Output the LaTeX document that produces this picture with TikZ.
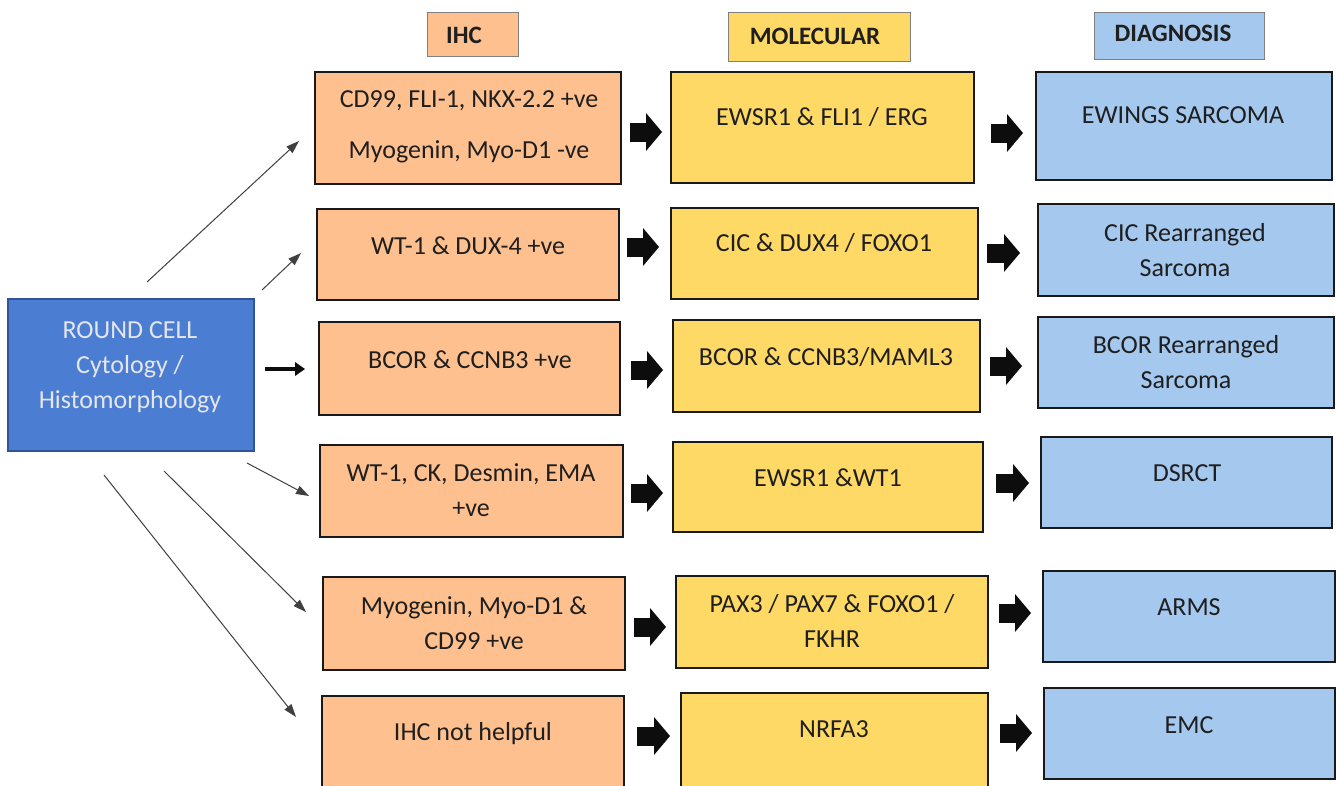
\documentclass[tikz,border=0pt]{standalone}
\usepackage{fontspec}
\setmainfont{Carlito}
\usetikzlibrary{arrows.meta}
\definecolor{ihcfill}{HTML}{FFC08F}
\definecolor{molfill}{HTML}{FFD966}
\definecolor{diafill}{HTML}{A4C8EE}
\definecolor{rcfill}{HTML}{4B7DD3}
\definecolor{rcline}{HTML}{2F5597}
\definecolor{rctext}{HTML}{E4E6EA}
\begin{document}
\begin{tikzpicture}[x=1pt,y=-1pt,
  txt/.style={font=\fontsize{26pt}{35pt}\selectfont, text=black!88, align=center, inner sep=0pt},
  hdrtxt/.style={txt, font=\fontsize{25pt}{30pt}\selectfont\bfseries},
  bx/.style={draw=black!90, line width=2pt, anchor=north west, inner sep=0pt, outer sep=0pt},
  ihcbox/.style={bx, fill=ihcfill},
  molbox/.style={bx, fill=molfill},
  diabox/.style={bx, fill=diafill},
  hdr/.style={draw=black!50, line width=1pt, anchor=north west, inner sep=0pt, outer sep=0pt},
  blk/.style={line width=19pt, draw=black!95, -{Triangle[length=16pt,width=38pt,line width=0pt]}},
  thickarr/.style={line width=4.5pt, draw=black!95, -{Triangle[length=10pt,width=14pt,line width=0pt]}},
  thinarr/.style={line width=1pt, draw=black!75, -{Triangle[length=13pt,width=9pt,line width=0pt]}}
  ]
\useasboundingbox (0,0) rectangle (1336,785);
\clip (0,0) rectangle (1336,785);
\fill[white] (0,0) rectangle (1336,785);

% headers
\node[hdr, fill=ihcfill, minimum width=91pt, minimum height=44pt] (hI) at (427,12) {};
\node[hdr, fill=molfill, minimum width=182pt, minimum height=49pt] (hM) at (728,12) {};
\node[hdr, fill=diafill, minimum width=170pt, minimum height=47pt] (hD) at (1094,12) {};
\node[hdrtxt] (thI) at (464,35) {IHC};
\node[hdrtxt] (thM) at (815,36) {MOLECULAR};
\node[hdrtxt] (thD) at (1173,33) {DIAGNOSIS};

% round cell
\node[draw=rcline, line width=1.2pt, fill=rcfill, anchor=north west, outer sep=0pt, minimum width=246pt, minimum height=152pt] (rc) at (8,299) {};
\node[txt, text=rctext] (trc) at (130,367) {ROUND CELL\\Cytology /\\Histomorphology};

% boxes
\node[ihcbox, minimum width=306pt, minimum height=112pt] (i1) at (315,72) {};
\node[molbox, minimum width=303pt, minimum height=111pt] (m1) at (671,72) {};
\node[diabox, minimum width=296pt, minimum height=108pt] (d1) at (1036,72) {};

\node[ihcbox, minimum width=302pt, minimum height=91pt] (i2) at (317,209) {};
\node[molbox, minimum width=307pt, minimum height=91pt] (m2) at (671,208) {};
\node[diabox, minimum width=296pt, minimum height=92pt] (d2) at (1038,204) {};

\node[ihcbox, minimum width=301pt, minimum height=93pt] (i3) at (319,322) {};
\node[molbox, minimum width=307pt, minimum height=92pt] (m3) at (673,320) {};
\node[diabox, minimum width=296pt, minimum height=91pt] (d3) at (1038,317) {};

\node[ihcbox, minimum width=303pt, minimum height=92pt] (i4) at (320,445) {};
\node[molbox, minimum width=310pt, minimum height=90pt] (m4) at (673,442) {};
\node[diabox, minimum width=291pt, minimum height=91pt] (d4) at (1041,437) {};

\node[ihcbox, minimum width=302pt, minimum height=93pt] (i5) at (323,577) {};
\node[molbox, minimum width=312pt, minimum height=92pt] (m5) at (676,576) {};
\node[diabox, minimum width=292pt, minimum height=91pt] (d5) at (1043,571) {};

\node[ihcbox, minimum width=302pt, minimum height=110pt] (i6) at (322,696) {};
\node[molbox, minimum width=307pt, minimum height=113pt] (m6) at (681,693) {};
\node[diabox, minimum width=291pt, minimum height=91pt] (d6) at (1044,688) {};

% texts
\node[txt] (ti1) at (469,127) {CD99, FLI-1, NKX-2.2 +ve\\[16pt]Myogenin, Myo-D1 -ve};
\node[txt] (tm1) at (822,117) {EWSR1 \& FLI1 / ERG};
\node[txt] (td1) at (1183,115) {EWINGS SARCOMA};

\node[txt] (ti2) at (468,246) {WT-1 \& DUX-4 +ve};
\node[txt] (tm2) at (824,243) {CIC \& DUX4 / FOXO1};
\node[txt] (td2) at (1185,250) {CIC Rearranged\\Sarcoma};

\node[txt] (ti3) at (470,360) {BCOR \& CCNB3 +ve};
\node[txt] (tm3) at (826,357) {BCOR \& CCNB3/MAML3};
\node[txt] (td3) at (1186,362) {BCOR Rearranged\\Sarcoma};

\node[txt] (ti4) at (471,490) {WT-1, CK, Desmin, EMA\\+ve};
\node[txt] (tm4) at (828,478) {EWSR1 \&WT1};
\node[txt] (td4) at (1187,473) {DSRCT};

\node[txt] (ti5) at (474,623) {Myogenin, Myo-D1 \&\\CD99 +ve};
\node[txt] (tm5) at (832,621) {PAX3 / PAX7 \& FOXO1 /\\FKHR};
\node[txt] (td5) at (1189,607) {ARMS};

\node[txt] (ti6) at (473,734) {IHC not helpful};
\node[txt] (tm6) at (834,729) {NRFA3};
\node[txt] (td6) at (1189,725) {EMC};

% block arrows IHC -> molecular
\draw[blk] ([xshift=9pt,yshift=-4pt]i1.east) -- ([xshift=-9pt,yshift=-4pt]i1.east -| m1.west);
\draw[blk] ([xshift=8pt,yshift=7.5pt]i2.east) -- ([xshift=-12pt,yshift=7.5pt]i2.east -| m2.west);
\draw[blk] ([xshift=11pt,yshift=-1.5pt]i3.east) -- ([xshift=-10pt,yshift=-1.5pt]i3.east -| m3.west);
\draw[blk] ([xshift=8pt,yshift=-2pt]i4.east) -- ([xshift=-10pt,yshift=-2pt]i4.east -| m4.west);
\draw[blk] ([xshift=9pt,yshift=-3.5pt]i5.east) -- ([xshift=-10pt,yshift=-3.5pt]i5.east -| m5.west);
\draw[blk] ([xshift=13pt,yshift=15pt]i6.east) -- ([xshift=-11pt,yshift=15pt]i6.east -| m6.west);

% block arrows molecular -> diagnosis
\draw[blk] ([xshift=17pt,yshift=-5.5pt]m1.east) -- ([xshift=-13pt,yshift=-5.5pt]m1.east -| d1.west);
\draw[blk] ([xshift=9pt,yshift=0.5pt]m2.east) -- ([xshift=-18pt,yshift=0.5pt]m2.east -| d2.west);
\draw[blk] ([xshift=10pt,yshift=0pt]m3.east) -- ([xshift=-16pt,yshift=0pt]m3.east -| d3.west);
\draw[blk] ([xshift=13pt,yshift=4pt]m4.east) -- ([xshift=-12pt,yshift=4pt]m4.east -| d4.west);
\draw[blk] ([xshift=11pt,yshift=9pt]m5.east) -- ([xshift=-12pt,yshift=9pt]m5.east -| d5.west);
\draw[blk] ([xshift=12pt,yshift=16.5pt]m6.east) -- ([xshift=-12pt,yshift=16.5pt]m6.east -| d6.west);

% arrows from round cell
\coordinate (s1) at (147,282);  \coordinate (e1) at (299,141);
\coordinate (s2) at (262,290);  \coordinate (e2) at (301,253);
\coordinate (s3) at (265,369);  \coordinate (e3) at (305,369);
\coordinate (s4) at (247,463);  \coordinate (e4) at (309,496);
\coordinate (s5) at (164,471);  \coordinate (e5) at (306,612);
\coordinate (s6) at (104,475);  \coordinate (e6) at (296,717);
\draw[thinarr] (s1) -- (e1);
\draw[thinarr] (s2) -- (e2);
\draw[thickarr] (s3) -- (e3);
\draw[thinarr] (s4) -- (e4);
\draw[thinarr] (s5) -- (e5);
\draw[thinarr] (s6) -- (e6);
\end{tikzpicture}
\end{document}
